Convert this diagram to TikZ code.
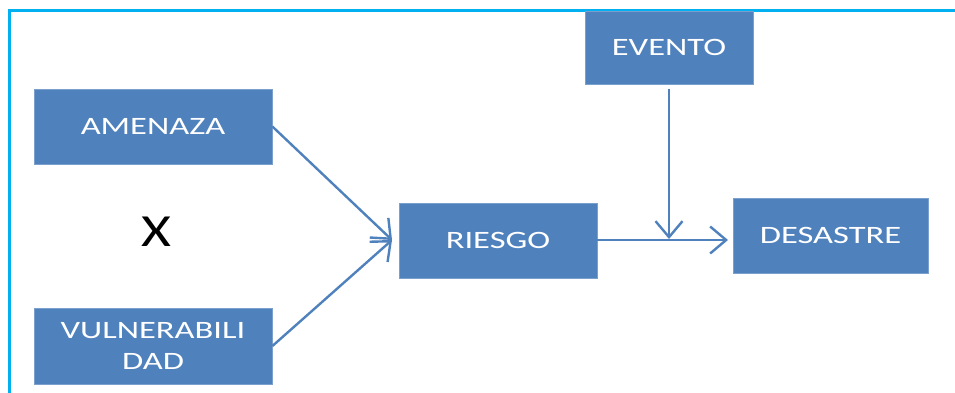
\documentclass[tikz,border=0pt]{standalone}
\usepackage{fontspec}
\setmainfont{Carlito}
\usetikzlibrary{arrows.meta}
\definecolor{boxblue}{HTML}{4F81BD}
\definecolor{framecyan}{HTML}{00B0F0}
\tikzset{
  box/.style={rectangle, fill=boxblue, draw=boxblue!75!white, line width=0.8pt,
    text=white, inner sep=0pt, font=\fontsize{25}{31}\selectfont, align=center},
  conn/.style={draw=boxblue, line width=2.4pt,
    -{Straight Barb[length=16pt, width=27pt, line width=2.4pt]}},
}
\newcommand{\wide}[1]{\scalebox{1.38}[1]{#1}}
\begin{document}
\begin{tikzpicture}[x=1pt, y=-1pt]
\useasboundingbox (0,0) rectangle (955,392);
\draw[framecyan, line width=3pt] (9,400) -- (9,10) -- (960,10);
\node[box, minimum width=238pt, minimum height=75pt] (amen) at (153,126.5) {\raisebox{-1.5pt}{\wide{AMENAZA}}};
\node[box, minimum width=238pt, minimum height=76pt] (vul) at (153,346) {\wide{VULNERABILI}\\\wide{DAD}};
\node[box, minimum width=198pt, minimum height=75pt] (ries) at (498,240.5) {\raisebox{-1.5pt}{\wide{RIESGO}}};
\node[box, minimum width=168pt, minimum height=73pt] (ev) at (669,47.5) {\wide{EVENTO}};
\node[box, minimum width=195pt, minimum height=75pt] (des) at (830.5,235.5) {\raisebox{-1.5pt}{\wide{DESASTRE}}};
\node[font=\fontsize{46}{50}\selectfont, text=black] (x) at (156,232) {\scalebox{1.25}[1]{X}};
\coordinate (tip) at (392,240);
\coordinate (join) at (669,239);
\coordinate (destip) at (728,240);
\draw[conn] (amen.east) -- (tip);
\draw[conn] (vul.east) -- (tip);
\draw[conn] (ries.east |- destip) -- (destip);
\draw[conn, shorten <=5pt] (ev.south) -- (join);
\end{tikzpicture}
\end{document}
